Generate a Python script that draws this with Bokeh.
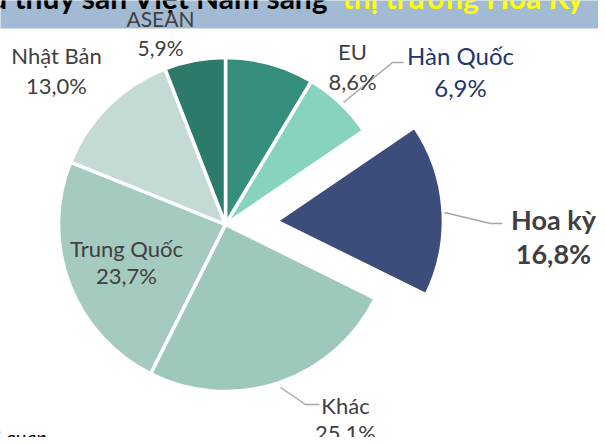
import math
from bokeh.plotting import figure
from bokeh.models import Range1d, ColumnDataSource
from bokeh.embed import file_html
from bokeh.resources import INLINE
from bokeh.core.properties import value

# ---- data ----
categories = ["EU", "Hàn Quốc", "Hoa kỳ", "Khác", "Trung Quốc", "Nhật Bản", "ASEAN"]
shares = [8.6, 6.9, 16.8, 25.1, 23.7, 13.0, 5.9]
share_labels = ["8,6%", "6,9%", "16,8%", "25,1%", "23,7%", "13,0%", "5,9%"]
title_dark = "Xuất khẩu thủy sản Việt Nam sang"
title_yellow = "thị trường Hoa Kỳ"
source_note = "Nguồn: Tổng cục Hải quan"

# ---- styles / layout ----
colors = ["#358f7c", "#88d2c0", "#3c4d7b", "#9ec8bc", "#a5cac0", "#c4dbd5", "#2c7a6a"]
explode = [0, 0, 51, 0, 0, 0, 0]
# label layout in picture pixel coords: (center x, name baseline y, value baseline y)
label_pos = [(352, 59, 89), (460, 63, 95), (553, 228, 262), (345, 413, 440),
             (126, 256, 283), (56, 63, 93), (160, 25, 54)]
label_color = ["#404040", "#1f3570", "#404040", "#404040", "#404040", "#404040", "#404040"]
label_size = [22, 24, 27, 22, 22, 22, 21]
label_style = ["normal", "normal", "bold", "normal", "normal", "normal", "normal"]
leaders = [
    [(343, 102), (392, 62), (403, 62)],
    [(444, 212), (490, 223), (502, 223)],
    [(280, 387), (305, 404), (319, 404)],
]
FONT = "Lato"
MID = 0.35   # baseline -> visual middle, in em
W, H = 598, 437
CX, CY, R = 225, 224, 167


def Y(yr):
    return H - yr


def Yb(baseline, size):
    # place a text by its baseline using middle alignment
    return Y(baseline - MID * size)


p = figure(width=W, height=H, x_range=Range1d(0, W), y_range=Range1d(0, H),
           output_backend="svg", toolbar_location=None, min_border=0,
           x_axis_location=None, y_axis_location=None)
p.grid.visible = False
p.outline_line_color = None
p.background_fill_color = "white"
p.border_fill_color = "white"

# title band
p.quad(left=-5, right=W + 5, top=Y(-5), bottom=Y(28), fill_color="#a3bad4", line_color=None)
p.text(x=[329], y=[Yb(7, 30)], text=[title_dark], text_align="right", text_baseline="middle",
       text_font=value(FONT), text_font_style="bold", text_font_size="30px", text_color="#000000")
p.text(x=[342], y=[Yb(7, 30)], text=[title_yellow], text_align="left", text_baseline="middle",
       text_font=value(FONT), text_font_style="bold", text_font_size="30px", text_color="#ffff00")

# pie slices
xs, ys, starts, ends = [], [], [], []
cum = 0.0
for s, e in zip(shares, explode):
    a0 = 90 - cum * 3.6
    cum += s
    a1 = 90 - cum * 3.6
    mid = math.radians((a0 + a1) / 2)
    xs.append(CX + e * math.cos(mid))
    ys.append(Y(CY) + e * math.sin(mid))
    starts.append(math.radians(a1))
    ends.append(math.radians(a0))

src = ColumnDataSource(dict(x=xs, y=ys, start=starts, end=ends, color=colors, cat=categories))
p.wedge(x="x", y="y", radius=R, start_angle="start", end_angle="end", source=src,
        fill_color="color", line_color="white", line_width=3.5)

# leader lines
for pts in leaders:
    p.line(x=[q[0] for q in pts], y=[Y(q[1]) for q in pts], line_color="#a6a6a6", line_width=1.5)

# labels
for cat, lab, (lx, y1, y2), col, sz, st in zip(categories, share_labels, label_pos,
                                                label_color, label_size, label_style):
    p.text(x=[lx, lx], y=[Yb(y1, sz), Yb(y2, sz)], text=[cat, lab], text_align="center",
           text_baseline="middle", text_font=value(FONT), text_font_size=f"{sz}px",
           text_font_style=st, text_color=col)

# source note
p.text(x=[47], y=[Yb(443, 20)], text=[source_note], text_align="right", text_baseline="middle",
       text_font=value(FONT), text_font_style="italic", text_font_size="20px", text_color="#000000")

open("out.html", "w").write(file_html(p, INLINE))
